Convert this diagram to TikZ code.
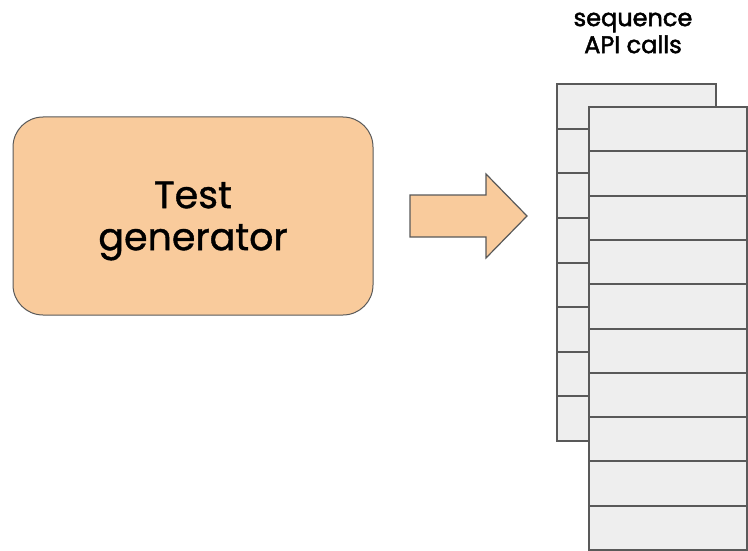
\documentclass[tikz,border=0pt]{standalone}
\usepackage{fontspec}
\setmainfont{Poppins}
\newfontfamily\popfont[FakeBold=1.0]{Poppins}
\newfontfamily\popmed[FakeBold=2.0]{Poppins}
\definecolor{peach}{HTML}{F9CB9C}
\definecolor{linegray}{HTML}{595959}
\definecolor{cellgray}{HTML}{EEEEEE}
\begin{document}
\begin{tikzpicture}[x=1pt,y=-1pt,
  genbox/.style={draw=linegray, line width=1pt, fill=peach, rounded corners=30pt,
    minimum width=360pt, minimum height=198pt, inner sep=0pt},
  gentext/.style={align=center, inner sep=0pt, font=\popfont\fontsize{38}{42}\selectfont},
  headtext/.style={align=center, inner sep=0pt, font=\popmed\fontsize{24}{27}\selectfont},
  arrowshape/.style={draw=linegray, line width=1.2pt, fill=peach, line join=miter},
  backcell/.style={draw=linegray, line width=2pt, fill=cellgray,
    minimum width=159pt, minimum height=44.625pt, inner sep=0pt, outer sep=0pt},
  frontcell/.style={draw=linegray, line width=2pt, fill=cellgray,
    minimum width=158pt, minimum height=44.3pt, inner sep=0pt, outer sep=0pt}]
\useasboundingbox (0,0) rectangle (748,551);

% generator box
\node[genbox] (gen) at (193,216) {};
\node[gentext] (gentxt) at (193,221) {Test\\generator};

% block arrow
\coordinate (a1) at (410,195);
\coordinate (a2) at (486,195);
\coordinate (a3) at (486,174);
\coordinate (a4) at (527,216);
\coordinate (a5) at (486,258);
\coordinate (a6) at (486,237);
\coordinate (a7) at (410,237);
\draw[arrowshape] (a1) -- (a2) -- (a3) -- (a4) -- (a5) -- (a6) -- (a7) -- cycle;

% back stack
\foreach \i in {1,...,8} {
  \node[backcell] (back\i) at (636.5, {84 + 44.625*(\i-0.5)}) {};
}
% front stack
\foreach \i in {1,...,10} {
  \node[frontcell] (front\i) at (667.5, {107 + 44.3*(\i-0.5)}) {};
}

% label
\node[headtext] (seqlabel) at (633,33) {sequence\\API calls};
\end{tikzpicture}
\end{document}
